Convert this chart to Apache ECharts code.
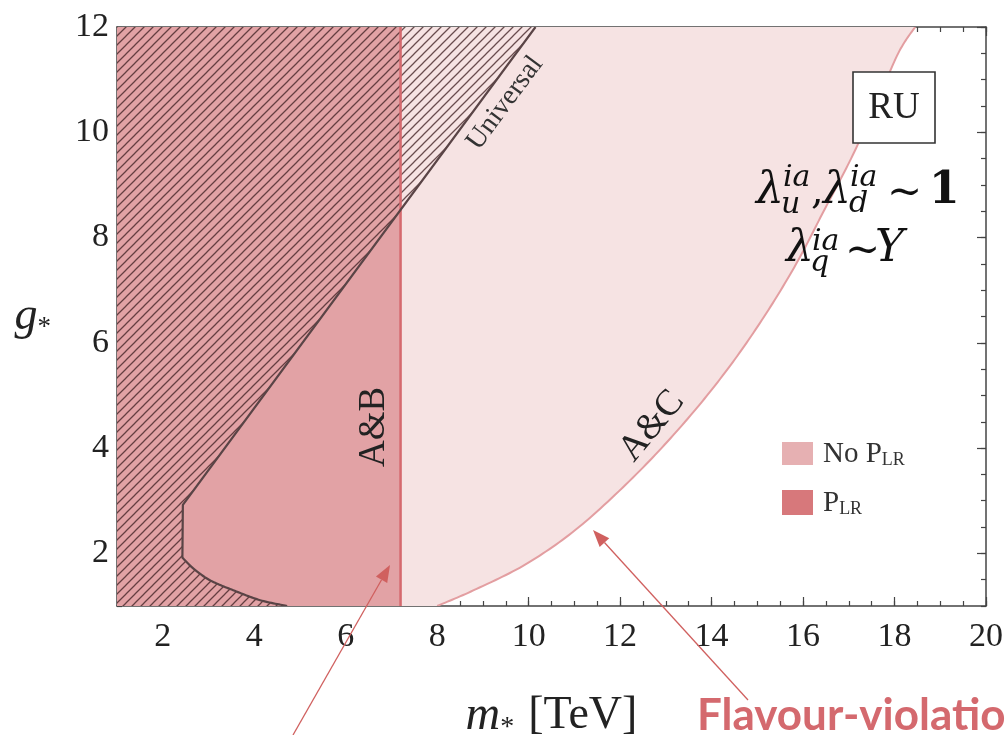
<!DOCTYPE html>
<html><head><meta charset="utf-8">
<script src="https://cdn.jsdelivr.net/npm/echarts@6/dist/echarts.min.js"></script>
<style>html,body{margin:0;padding:0;background:#fff}#c{width:1006px;height:735px}</style>
</head><body><div id="c"></div>
<script>
// ---------- data ----------
const xRange = [1, 20];
const yRange = [1, 12];
const xMajorTicks = [2, 4, 6, 8, 10, 12, 14, 16, 18, 20];
const yMajorTicks = [2, 4, 6, 8, 10, 12];
const xMinorTicks = [1, 1.5, 2, 2.5, 3, 3.5, 4, 4.5, 5, 5.5, 6, 6.5, 7, 7.5, 8, 8.5, 9, 9.5, 10, 10.5, 11, 11.5, 12, 12.5, 13, 13.5, 14, 14.5, 15, 15.5, 16, 16.5, 17, 17.5, 18, 18.5, 19, 19.5, 20];
const yMinorTicks = [1, 1.5, 2, 2.5, 3, 3.5, 4, 4.5, 5, 5.5, 6, 6.5, 7, 7.5, 8, 8.5, 9, 9.5, 10, 10.5, 11, 11.5, 12];
// P_LR bound (A&B): vertical edge at m* = 7.2 TeV
const plrEdgeX = 7.2;
// Universal exclusion boundary (m*, g*): straight part, then curved foot
const universalDiagonal = [[10.15, 12], [2.44, 2.92], [2.43, 1.92]];
const universalFoot = [[2.43, 1.92], [2.66, 1.72], [3.03, 1.49], [3.54, 1.30], [4.13, 1.11], [4.72, 1.0]];
// A&C boundary (no P_LR)
const acEdge = [[8.0, 1.0], [8.8, 1.3], [9.95, 1.8], [11.1, 2.5], [12.35, 3.5], [13.42, 4.5], [14.35, 5.5], [15.15, 6.5], [15.85, 7.5], [16.45, 8.5], [17.05, 9.5], [17.58, 10.5], [18.08, 11.5], [18.45, 12.0]];

// ---------- helpers ----------
const SERIF = "'Liberation Serif', 'DejaVu Serif', serif";
const hatch = document.createElement('canvas');
hatch.width = 9; hatch.height = 9;
(function () {
  const c = hatch.getContext('2d');
  c.strokeStyle = 'rgba(70,38,40,0.8)';
  c.lineWidth = 1.25;
  c.beginPath();
  c.moveTo(0, 9); c.lineTo(9, 0);
  c.moveTo(-2, 2); c.lineTo(2, -2);
  c.moveTo(7, 11); c.lineTo(11, 7);
  c.stroke();
})();

// Catmull-Rom rendering of a pixel polyline (drawing only, no new data)
function spline(px) {
  if (px.length < 3) return px.slice();
  const out = [];
  for (let i = 0; i < px.length - 1; i++) {
    const p0 = px[Math.max(i - 1, 0)], p1 = px[i], p2 = px[i + 1], p3 = px[Math.min(i + 2, px.length - 1)];
    for (let k = 0; k < 16; k++) {
      const t = k / 16, t2 = t * t, t3 = t2 * t;
      out.push([0, 1].map(d => 0.5 * ((2 * p1[d]) + (-p0[d] + p2[d]) * t + (2 * p0[d] - 5 * p1[d] + 4 * p2[d] - p3[d]) * t2 + (-p0[d] + 3 * p1[d] - 3 * p2[d] + p3[d]) * t3)));
    }
  }
  out.push(px[px.length - 1]);
  return out;
}

// parts: list of [points, smooth?]
function shapeSeries(name, type, parts, style, z) {
  return {
    type: 'custom', name, coordinateSystem: 'cartesian2d', xAxisIndex: 0, yAxisIndex: 0,
    z, silent: true, clip: true, data: [parts[0][0][0]],
    renderItem: (p, api) => {
      let pts = [];
      parts.forEach(([arr, smooth]) => {
        const px = arr.map(pt => api.coord(pt));
        pts = pts.concat(smooth ? spline(px) : px);
      });
      return { type, shape: { points: pts }, style };
    }
  };
}

const lightRegion = [[[[plrEdgeX, yRange[0]]], false], [acEdge, true], [[[plrEdgeX, yRange[1]]], false]];
const plrRegion = [[[[xRange[0], yRange[0]], [plrEdgeX, yRange[0]], [plrEdgeX, yRange[1]], [xRange[0], yRange[1]]], false]];
const universalRegion = [[[[xRange[0], yRange[0]], [xRange[0], yRange[1]]], false], [universalDiagonal, false], [universalFoot, true]];
const universalLine = [[universalDiagonal, false], [universalFoot, true]];
const plrLine = [[[[plrEdgeX, yRange[0]], [plrEdgeX, yRange[1]]], false]];

function axisX(pos, ticks, len, showLine, labels) {
  return {
    type: 'value', min: xRange[0], max: xRange[1], position: pos,
    axisLine: { show: showLine, lineStyle: { color: '#444', width: 1.5 } },
    axisTick: { show: true, inside: true, length: len, customValues: ticks, lineStyle: { color: '#444', width: 1.2 } },
    axisLabel: labels ? { show: true, customValues: xMajorTicks, margin: 14, fontFamily: SERIF, fontSize: 34, color: '#222' } : { show: false },
    splitLine: { show: false }
  };
}
function axisY(pos, ticks, len, showLine, labels) {
  return {
    type: 'value', min: yRange[0], max: yRange[1], position: pos,
    axisLine: { show: showLine, lineStyle: { color: '#444', width: 1.5 } },
    axisTick: { show: true, inside: true, length: len, customValues: ticks, lineStyle: { color: '#444', width: 1.2 } },
    axisLabel: labels ? { show: true, customValues: yMajorTicks, margin: 8, fontFamily: SERIF, fontSize: 34, color: '#222' } : { show: false },
    splitLine: { show: false }
  };
}

const xAxes = [axisX('bottom', xMajorTicks, 9, true, true), axisX('bottom', xMinorTicks, 5, false, false),
               axisX('top', xMajorTicks, 9, true, false), axisX('top', xMinorTicks, 5, false, false)];
const yAxes = [axisY('left', yMajorTicks, 9, true, true), axisY('left', yMinorTicks, 5, false, false),
               axisY('right', yMajorTicks, 9, true, false), axisY('right', yMinorTicks, 5, false, false)];
xAxes[0].name = '{m|m}{s|*}{t|[TeV]}';
xAxes[0].nameLocation = 'middle';
xAxes[0].nameGap = 84;
xAxes[0].nameTextStyle = { rich: {
  m: { fontFamily: SERIF, fontStyle: 'italic', fontSize: 48, color: '#222', lineHeight: 52 },
  s: { fontFamily: SERIF, fontSize: 28, color: '#222', verticalAlign: 'bottom', lineHeight: 22, padding: [0, 14, 0, 0] },
  t: { fontFamily: SERIF, fontSize: 46, color: '#222', lineHeight: 52 } } };
yAxes[0].name = '{g|g}{s|*}';
yAxes[0].nameLocation = 'middle';
yAxes[0].nameRotate = 0;
yAxes[0].nameGap = 66;
yAxes[0].nameTextStyle = { rich: {
  g: { fontFamily: SERIF, fontStyle: 'italic', fontSize: 46, color: '#222', lineHeight: 50 },
  s: { fontFamily: SERIF, fontSize: 27, color: '#222', verticalAlign: 'bottom', lineHeight: 20 } } };

// ---------- annotations (pixel layout) ----------
function txt(x, y, text, font, opts) {
  return Object.assign({ type: 'text', x, y, z: 100, silent: true,
    style: Object.assign({ text, font, fill: '#111', align: 'left', verticalAlign: 'middle' }, opts || {}) });
}
function arrow(tail, tip, color) {
  const dx = tip[0] - tail[0], dy = tip[1] - tail[1], L = Math.hypot(dx, dy);
  const ux = dx / L, uy = dy / L, hl = 17, hw = 6.5;
  const bx = tip[0] - ux * hl, by = tip[1] - uy * hl;
  return [
    { type: 'line', z: 100, silent: true, shape: { x1: tail[0], y1: tail[1], x2: bx, y2: by }, style: { stroke: color, lineWidth: 1.3 } },
    { type: 'polygon', z: 100, silent: true, shape: { points: [tip, [bx - uy * hw, by + ux * hw], [bx + uy * hw, by - ux * hw]] }, style: { fill: color } }
  ];
}
const mathFont = (s) => "italic " + s + "px 'DejaVu Serif', serif";
const uprFont = (s) => s + "px 'DejaVu Serif', serif";
const arrowColor = '#d0605f';
const graphics = [
  txt(505, 103, 'Universal', "28px " + SERIF, { align: 'center', fill: '#333' }),
  txt(374, 427, 'A&B', "37px " + SERIF, { align: 'center', fill: '#222' }),
  txt(652, 426, 'A&C', "37px " + SERIF, { align: 'center', fill: '#222' }),
  { type: 'rect', z: 100, silent: true, shape: { x: 853, y: 72, width: 82, height: 71 }, style: { fill: '#fff', stroke: '#333', lineWidth: 1.6 } },
  txt(894, 108, 'RU', "37px " + SERIF, { align: 'center', fill: '#222' }),
  // line 1: λu^ia , λd^ia ~ 1
  txt(756, 192, 'λ', mathFont(44)),
  txt(783, 178, 'ia', mathFont(30)),
  txt(781, 205, 'u', mathFont(30)),
  txt(811, 193, ',', uprFont(40)),
  txt(823, 192, 'λ', mathFont(44)),
  txt(850, 178, 'ia', mathFont(30)),
  txt(849, 204, 'd', mathFont(30)),
  txt(887, 194, '~', uprFont(42)),
  txt(929, 192, '1', "bold 44px 'DejaVu Serif', serif"),
  // line 2: λq^ia ~ Y
  txt(786, 250, 'λ', mathFont(44)),
  txt(812, 242, 'ia', mathFont(30)),
  txt(810, 263, 'q', mathFont(30)),
  txt(845, 252, '~', uprFont(42)),
  txt(875, 250, 'Y', mathFont(44)),
  // legend
  { type: 'rect', z: 100, silent: true, shape: { x: 782, y: 442, width: 31, height: 23 }, style: { fill: '#e6b0b2' } },
  { type: 'rect', z: 100, silent: true, shape: { x: 782, y: 490, width: 31, height: 25 }, style: { fill: '#d7787b' } },
  { type: 'text', x: 823, y: 454, z: 100, silent: true, style: { text: '{a|No P}{b|LR}', align: 'left', verticalAlign: 'middle',
      rich: { a: { font: "29px " + SERIF, fill: '#333', lineHeight: 30 }, b: { font: "18px " + SERIF, fill: '#333', verticalAlign: 'bottom', lineHeight: 16 } } } },
  { type: 'text', x: 823, y: 503, z: 100, silent: true, style: { text: '{a|P}{b|LR}', align: 'left', verticalAlign: 'middle',
      rich: { a: { font: "29px " + SERIF, fill: '#333', lineHeight: 30 }, b: { font: "18px " + SERIF, fill: '#333', verticalAlign: 'bottom', lineHeight: 16 } } } },
  txt(697, 716, 'Flavour-violatio', "bold 44px Lato, 'Open Sans', sans-serif", { fill: '#d4696e' })
].concat(arrow([293, 735], [390, 565], arrowColor), arrow([748, 700], [593, 530], arrowColor));
graphics[0].rotation = 53.5 * Math.PI / 180;
graphics[1].rotation = Math.PI / 2;
graphics[2].rotation = 50 * Math.PI / 180;

const chart = echarts.init(document.getElementById('c'), null, { renderer: 'canvas' });
chart.setOption({
  animation: false,
  backgroundColor: '#fff',
  grid: { left: 117, right: 20, top: 27, bottom: 129, containLabel: false, outerBoundsMode: 'none' },
  xAxis: xAxes,
  yAxis: yAxes,
  series: [
    shapeSeries('No P_LR (A&C)', 'polygon', lightRegion, { fill: '#f6e3e3' }, 1),
    shapeSeries('P_LR (A&B)', 'polygon', plrRegion, { fill: '#e2a2a5' }, 2),
    shapeSeries('Universal', 'polygon', universalRegion, { fill: { image: hatch, repeat: 'repeat' } }, 3),
    shapeSeries('A&C edge', 'polyline', [[acEdge, true]], { fill: null, stroke: '#e39ea1', lineWidth: 2 }, 4),
    shapeSeries('P_LR edge', 'polyline', plrLine, { fill: null, stroke: '#d5696e', lineWidth: 2.5 }, 4),
    shapeSeries('Universal edge', 'polyline', universalLine, { fill: null, stroke: '#5a4446', lineWidth: 2.2 }, 5)
  ],
  graphic: graphics
});
</script></body></html>
